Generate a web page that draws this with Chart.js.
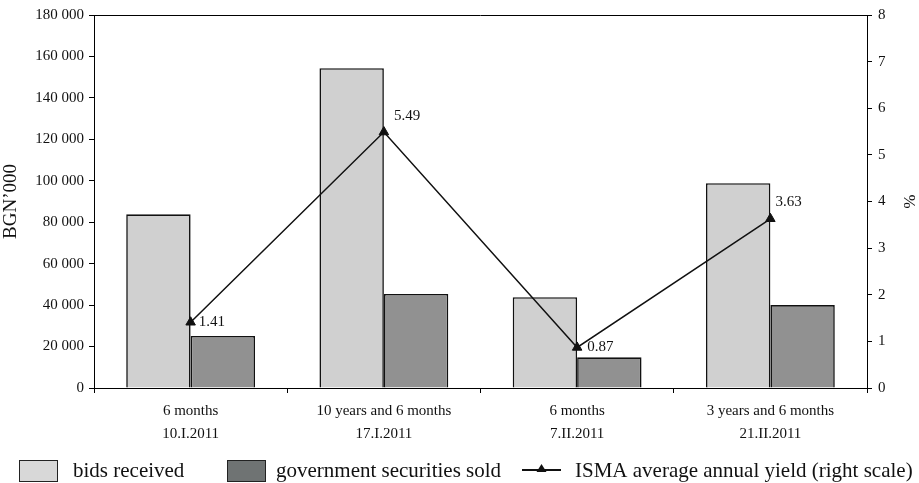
<!DOCTYPE html>
<html>
<head>
<meta charset="utf-8">
<script src="https://cdn.jsdelivr.net/npm/chart.js@4"></script>
<style>
  html, body { margin: 0; padding: 0; background: #fff; }
  #wrap { width: 919px; height: 483px; position: relative; }
</style>
</head>
<body>
<div id="wrap"><canvas id="auctionChart" width="919" height="483"></canvas></div>
<script>
// Kategoriler ve seriler
const categories = [
    ['6 months', '10.I.2011'],
    ['10 years and 6 months', '17.I.2011'],
    ['6 months', '7.II.2011'],
    ['3 years and 6 months', '21.II.2011']
];
const bidsReceived = [83800, 154300, 43800, 98800];
const securitiesSold = [25100, 45400, 14800, 40000];
const ismaYield = [1.41, 5.49, 0.87, 3.63];
const leftTicks = [0, 20000, 40000, 60000, 80000, 100000, 120000, 140000, 160000, 180000];
const rightTicks = [0, 1, 2, 3, 4, 5, 6, 7, 8];

const serif = "'Liberation Serif', 'DejaVu Serif', serif";

function formatThousands(v) {
    return String(v).replace(/\B(?=(\d{3})+(?!\d))/g, ' ');
}

// Grafik alanının çerçevesi (üst çizgi)
const framePlugin = {
    id: 'frame',
    afterDatasetsDraw(chart) {
        const a = chart.chartArea;
        const ctx = chart.ctx;
        ctx.save();
        ctx.strokeStyle = '#000';
        ctx.lineWidth = 1;
        ctx.beginPath();
        ctx.moveTo(a.left, a.top + 0.5);
        ctx.lineTo(a.right, a.top + 0.5);
        ctx.stroke();
        ctx.restore();
    }
};

// Getiri etiketleri
const yieldLabelPlugin = {
    id: 'yieldLabels',
    afterDatasetsDraw(chart) {
        const offsets = [[8, 0], [10, -16], [10, 0], [5, -17]];
        const meta = chart.getDatasetMeta(2);
        const ctx = chart.ctx;
        ctx.save();
        ctx.font = '15px ' + serif;
        ctx.fillStyle = '#111';
        ctx.textBaseline = 'middle';
        ctx.textAlign = 'left';
        meta.data.forEach((pt, i) => {
            ctx.fillText(ismaYield[i].toFixed(2), pt.x + offsets[i][0], pt.y + offsets[i][1]);
        });
        ctx.restore();
    }
};

// Alt açıklama (legend)
const bottomLegendPlugin = {
    id: 'bottomLegend',
    afterDraw(chart) {
        const ctx = chart.ctx;
        const ds = chart.data.datasets;
        const cy = 471;
        ctx.save();
        ctx.font = '21px ' + serif;
        ctx.textBaseline = 'middle';
        ctx.fillStyle = '#111';

        // kutular
        const boxes = [[19, 73, 0], [227, 276, 1]];
        boxes.forEach(([bx, tx, idx]) => {
            ctx.fillStyle = idx === 1 ? '#6f7373' : '#d8d8d8';
            ctx.fillRect(bx, cy - 10.5, 38, 21);
            ctx.strokeStyle = '#222';
            ctx.lineWidth = 1;
            ctx.strokeRect(bx + 0.5, cy - 10.5, 38, 21);
            ctx.fillStyle = '#111';
            ctx.fillText(ds[idx].label, tx, cy);
        });

        // çizgi + üçgen
        ctx.strokeStyle = '#111';
        ctx.lineWidth = 2;
        ctx.beginPath();
        ctx.moveTo(522, cy - 1);
        ctx.lineTo(561, cy - 1);
        ctx.stroke();
        ctx.beginPath();
        ctx.moveTo(541.5, cy - 7);
        ctx.lineTo(546.5, cy + 1);
        ctx.lineTo(536.5, cy + 1);
        ctx.closePath();
        ctx.fill();
        ctx.fillText(ds[2].label, 575, cy);
        ctx.restore();
    }
};

const ctx = document.getElementById('auctionChart').getContext('2d');
new Chart(ctx, {
    data: {
        labels: categories,
        datasets: [
            {
                type: 'bar',
                label: 'bids received',
                data: bidsReceived,
                backgroundColor: '#d0d0d0',
                borderColor: '#111',
                borderWidth: 1.6,
                borderSkipped: 'bottom',
                yAxisID: 'y',
                order: 2
            },
            {
                type: 'bar',
                label: 'government securities sold',
                data: securitiesSold,
                backgroundColor: '#919191',
                borderColor: '#111',
                borderWidth: 1.6,
                borderSkipped: 'bottom',
                yAxisID: 'y',
                order: 2
            },
            {
                type: 'line',
                label: 'ISMA average annual yield (right scale)',
                data: ismaYield,
                borderColor: '#111',
                borderWidth: 1.5,
                pointStyle: 'triangle',
                pointRadius: 5.5,
                pointBackgroundColor: '#111',
                pointBorderColor: '#111',
                pointBorderWidth: 1,
                tension: 0,
                yAxisID: 'y1',
                order: 1
            }
        ]
    },
    options: {
        responsive: false,
        animation: false,
        devicePixelRatio: 1,
        layout: { padding: { top: 15, left: 0, right: 0, bottom: 45 } },
        datasets: {
            bar: { categoryPercentage: 2 / 3, barPercentage: 1 }
        },
        plugins: {
            legend: { display: false },
            tooltip: { enabled: false }
        },
        scales: {
            x: {
                offset: true,
                grid: {
                    offset: true,
                    drawOnChartArea: false,
                    drawTicks: true,
                    tickLength: 5,
                    color: '#000'
                },
                border: { color: '#000', width: 1 },
                ticks: {
                    color: '#111',
                    font: { family: serif, size: 15, lineHeight: 1.5 },
                    padding: 7,
                    maxRotation: 0,
                    autoSkip: false
                },
                afterFit(scale) { scale.height = 50; }
            },
            y: {
                position: 'left',
                min: 0,
                max: 180000,
                afterBuildTicks(scale) { scale.ticks = leftTicks.map(v => ({ value: v })); },
                grid: {
                    drawOnChartArea: false,
                    drawTicks: true,
                    tickLength: 5,
                    color: '#000'
                },
                border: { color: '#000', width: 1 },
                ticks: {
                    color: '#111',
                    font: { family: serif, size: 15 },
                    padding: 5,
                    callback: v => formatThousands(v)
                },
                title: {
                    display: true,
                    text: 'BGN\u2019000',
                    color: '#111',
                    font: { family: serif, size: 19 },
                    padding: { top: 0, bottom: 6 }
                },
                afterFit(scale) { scale.width = 94; }
            },
            y1: {
                position: 'right',
                min: 0,
                max: 8,
                afterBuildTicks(scale) { scale.ticks = rightTicks.map(v => ({ value: v })); },
                grid: {
                    drawOnChartArea: false,
                    drawTicks: true,
                    tickLength: 5,
                    color: '#000'
                },
                border: { color: '#000', width: 1 },
                ticks: {
                    color: '#111',
                    font: { family: serif, size: 15 },
                    padding: 6
                },
                title: {
                    display: true,
                    text: '%',
                    color: '#111',
                    font: { family: serif, size: 17 },
                    padding: { top: 0, bottom: 0 }
                },
                afterFit(scale) { scale.width = 52; }
            }
        }
    },
    plugins: [framePlugin, yieldLabelPlugin, bottomLegendPlugin]
});
</script>
</body>
</html>
